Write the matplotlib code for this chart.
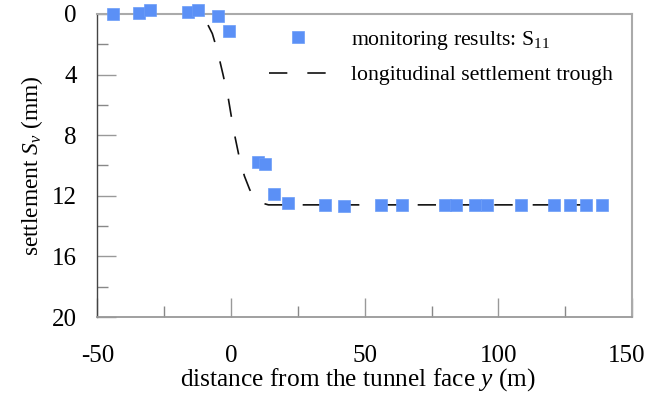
import matplotlib
matplotlib.use("Agg")
import matplotlib.pyplot as plt
import matplotlib.transforms as mtransforms
from matplotlib.ticker import MultipleLocator

# ---- data ----
x_mon = [-44.2, -34.3, -30.3, -16.2, -12.2, -4.7, -0.7, 10.2, 12.7, 16.1, 21.4,
         35.1, 42.2, 56.0, 64.0, 80.0, 84.1, 91.2, 95.6, 108.3, 120.9, 126.7,
         132.6, 138.6]
s_mon = [0.0, -0.05, -0.28, -0.12, -0.28, 0.12, 1.1, 9.8, 9.9, 11.9, 12.5,
         12.6, 12.7, 12.6, 12.6, 12.6, 12.6, 12.6, 12.6, 12.6, 12.6, 12.6,
         12.6, 12.6]

curve_x = [-50, -20, -14, -11, -9, -7, -5, -3, -1, 1, 3, 5, 7, 9, 11, 14, 20, 140]
curve_s = [0.0, 0.0, 0.05, 0.2, 0.6, 1.3, 2.5, 4.0, 5.6, 7.7, 9.4, 10.7, 11.6,
           12.2, 12.45, 12.6, 12.6, 12.6]

x_ticks = [-50, 0, 50, 100, 150]
x_ticklabels = ["-50", "0", "50", "100", "150"]
y_ticks = [0, 4, 8, 12, 16, 20]
y_ticklabels = ["0", "4", "8", "12", "16", "20"]

label_mon = "monitoring results: S$_{11}$"
label_curve = "longitudinal settlement trough"
xlabel = "distance from the tunnel face $y$ (m)"
ylabel = "settlement $S_v$ (mm)"

plt.rcParams["font.family"] = ["Liberation Serif", "DejaVu Serif"]
plt.rcParams["mathtext.fontset"] = "custom"
plt.rcParams["mathtext.rm"] = "Liberation Serif"
plt.rcParams["mathtext.it"] = "Liberation Serif:italic"

fig = plt.figure(figsize=(6.49, 3.98), dpi=100)
ax = fig.add_axes([0.150, 0.2035, 0.824, 0.7615])

ax.plot(curve_x, curve_s, color="#111111", lw=1.2, linestyle=(0, (11, 12)),
        label=label_curve, zorder=2)
ax.plot(x_mon, s_mon, linestyle="none", marker="s", ms=8.8, color="#5b90f6",
        mec="#6b9cf8", mew=0.5, label=label_mon, clip_on=False, zorder=3)

ax.set_xlim(-50, 150)
ax.set_ylim(20, 0)
ax.set_xticks(x_ticks)
ax.set_xticklabels(x_ticklabels)
ax.set_yticks(y_ticks)
ax.set_yticklabels(y_ticklabels)
ax.xaxis.set_minor_locator(MultipleLocator(25))
ax.yaxis.set_minor_locator(MultipleLocator(2))

ax.tick_params(axis="x", which="major", direction="in", length=13.5, width=1,
               color="#999999", labelsize=18, pad=20)
ax.tick_params(axis="y", which="major", direction="in", length=13.5, width=1,
               color="#999999", labelsize=18, pad=15)
ax.tick_params(which="minor", direction="in", length=8, width=1, color="#888888")
ax.tick_params(top=False, right=False, which="both")

# nudge the last x tick label slightly left so it stays inside the figure
last = ax.get_xticklabels()[-1]
last.set_transform(last.get_transform() +
                   mtransforms.ScaledTranslation(-6 / 100, 0, fig.dpi_scale_trans))

ax.spines["left"].set_color("#444444")
ax.spines["left"].set_linewidth(1.0)
ax.spines["bottom"].set_color("#999999")
ax.spines["bottom"].set_linewidth(1.3)
for side in ["top", "right"]:
    ax.spines[side].set_color("#aaaaaa")
    ax.spines[side].set_linewidth(1.5)

ax.set_xlabel(xlabel, fontsize=18.3)
ax.xaxis.set_label_coords(0.488, -0.205)
ax.xaxis.label.set_va("center")
ax.set_ylabel(ylabel, fontsize=16.8, labelpad=5)

handles, labels = ax.get_legend_handles_labels()
leg = ax.legend(handles[::-1], labels[::-1], loc="upper left",
                bbox_to_anchor=(269 / 649, 1 - 29 / 398),
                bbox_transform=fig.transFigure, frameon=False, fontsize=15.7,
                handlelength=2.65, handletextpad=1.12, labelspacing=0.6,
                borderpad=0, borderaxespad=0)

fig.savefig("out.png", dpi=100)
